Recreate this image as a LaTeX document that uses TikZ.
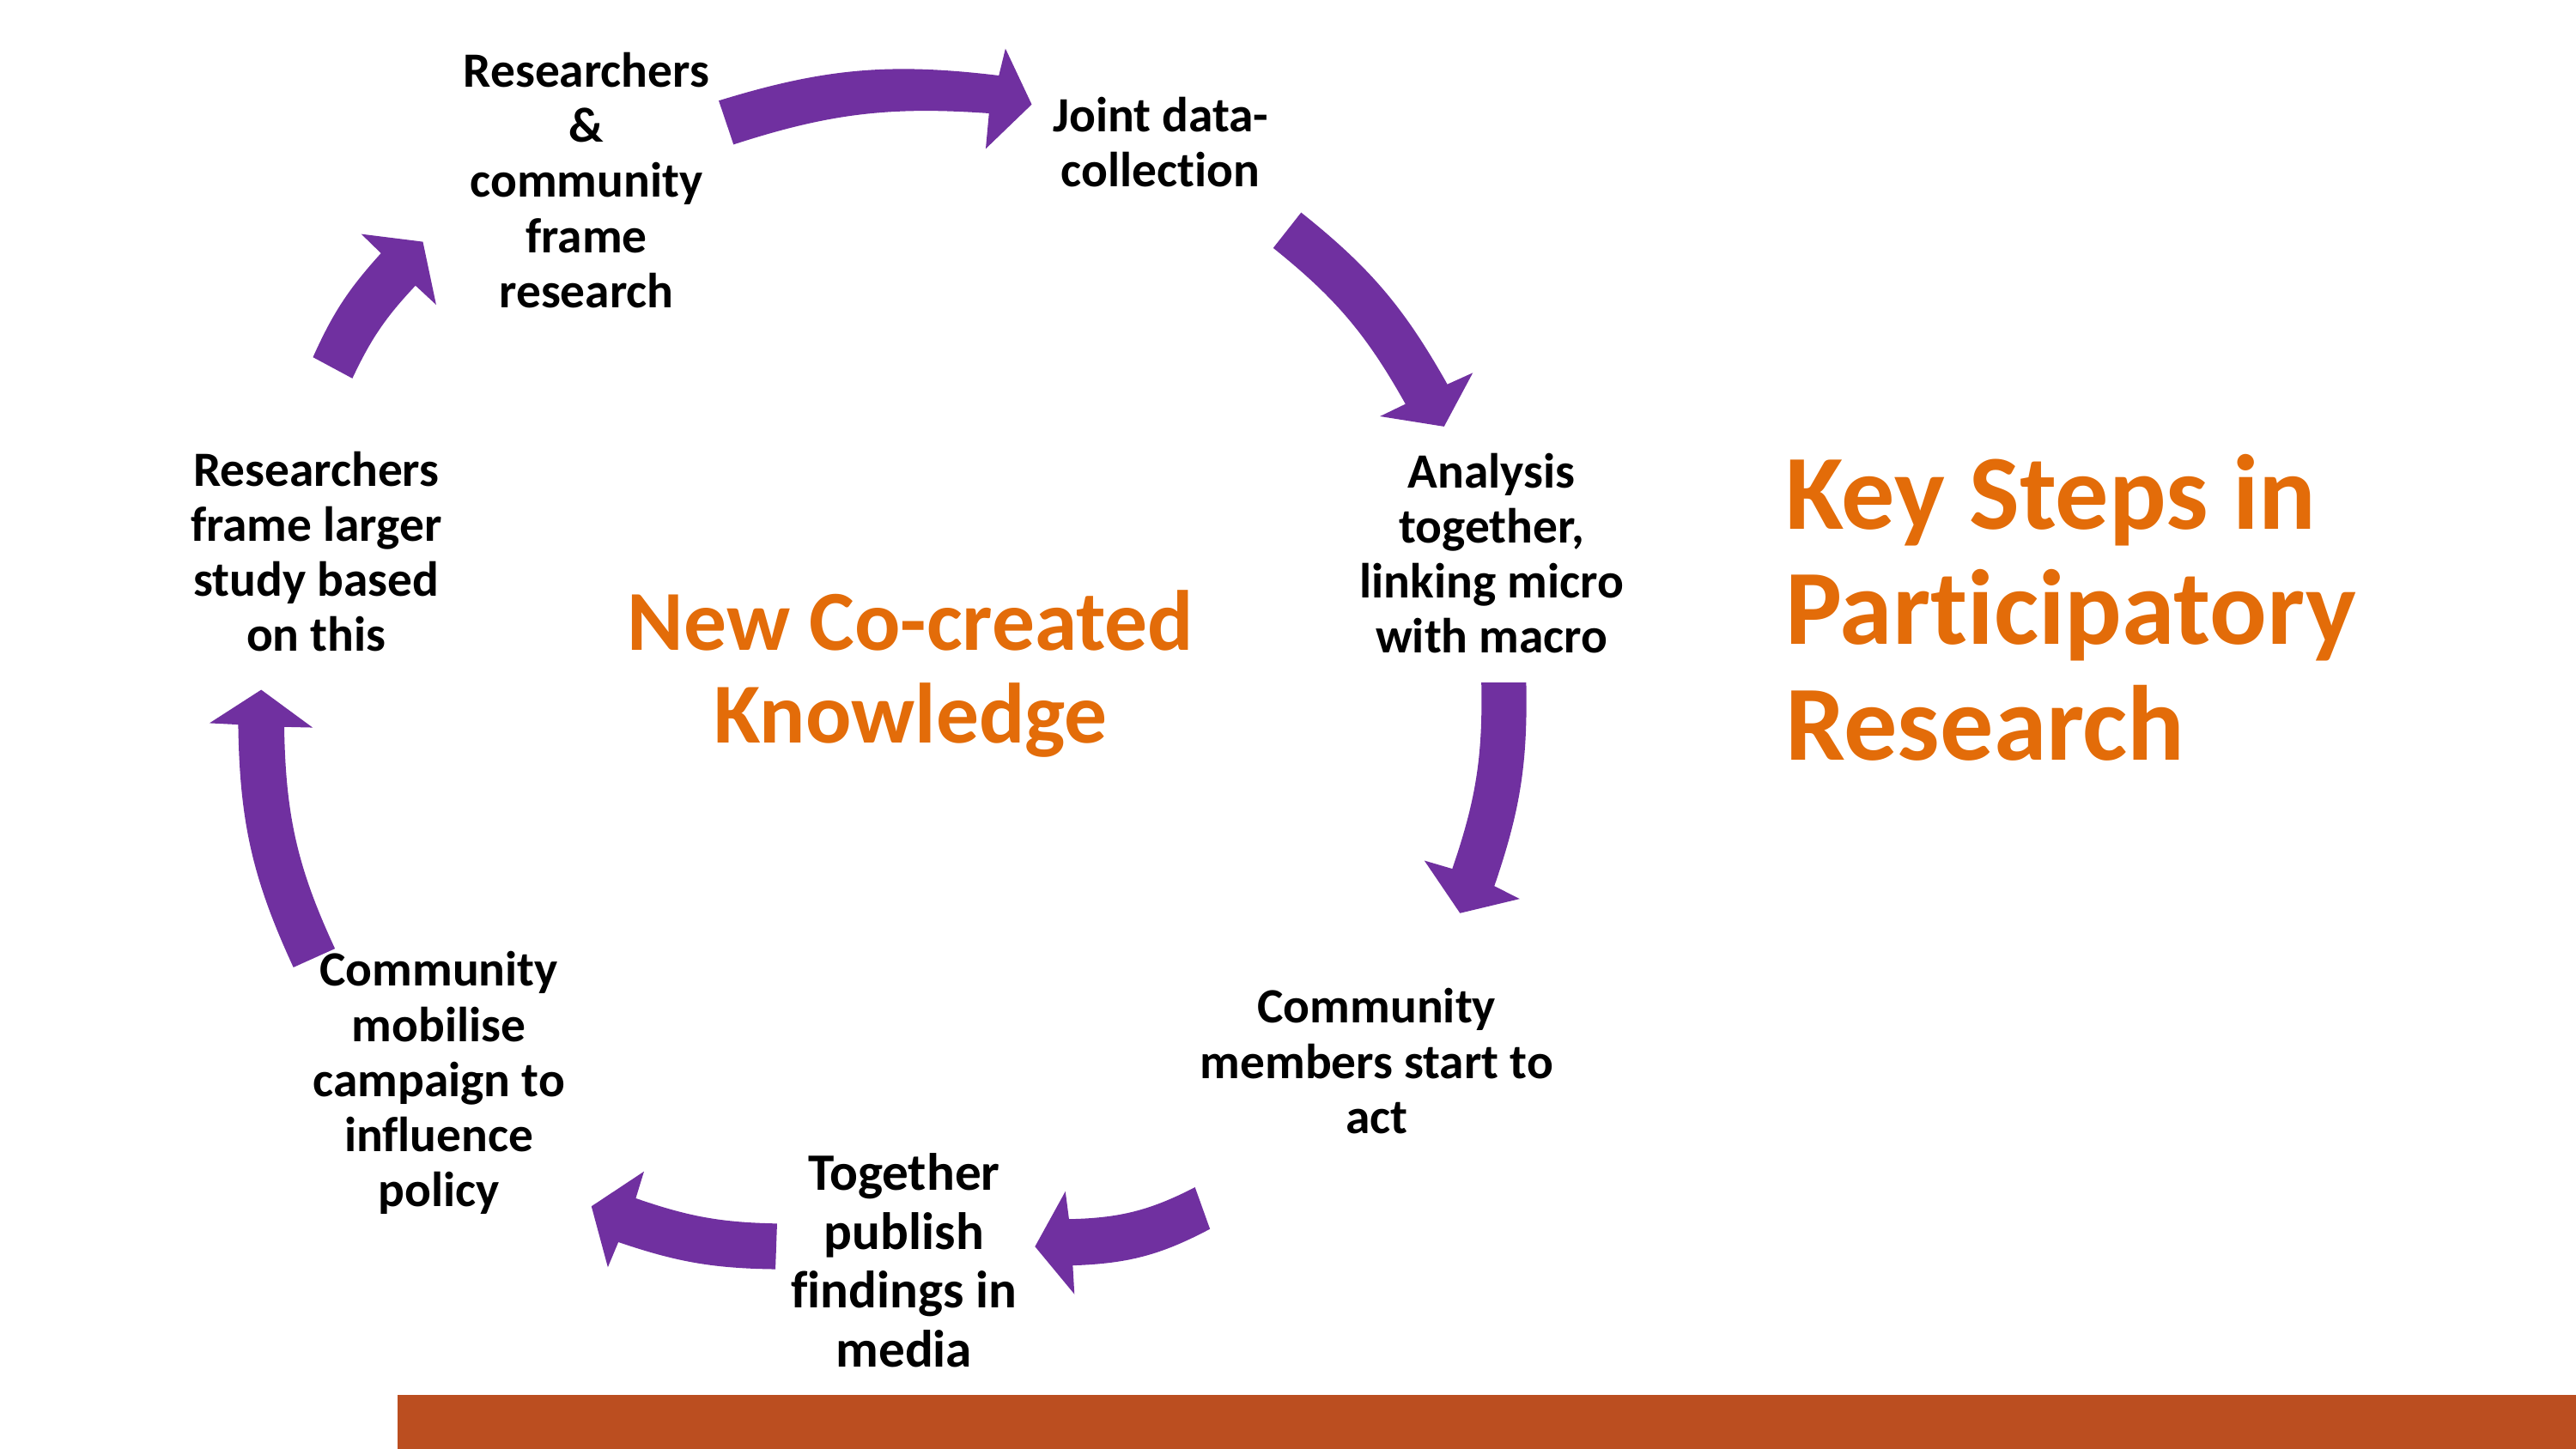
\documentclass[tikz,border=0pt]{standalone}
\usepackage{fontspec}
\setmainfont{Carlito}[Ligatures=NoCommon]
\definecolor{arrowpurple}{HTML}{7030A0}
\definecolor{keyorange}{HTML}{E36C09}
\definecolor{barbrown}{HTML}{BB4E20}
\begin{document}
\begin{tikzpicture}[x=0.1mm,y=0.1mm,
  cyc/.style={fill=arrowpurple},
  steptext/.style={inner sep=0pt, align=center, anchor=base, text=black,
    font=\bfseries\fontsize{8.54pt}{9.53pt}\selectfont},
  bigtext/.style={inner sep=0pt, align=center, anchor=base, text=black,
    font=\bfseries\fontsize{9.1pt}{10.24pt}\selectfont},
  centretext/.style={inner sep=0pt, align=center, anchor=base, text=keyorange,
    font=\bfseries\fontsize{14.8pt}{16.02pt}\selectfont},
  titletext/.style={inner sep=0pt, align=left, anchor=base west, text=keyorange,
    font=\bfseries\fontsize{18.49pt}{20.06pt}\selectfont}]
\useasboundingbox (0,0) rectangle (1568,882);
% bottom bar
\fill[barbrown] (242,0) rectangle (1568,32.5);

% step texts (anchor = baseline of last line)
\node[steptext] (n1) at (357,694.8) {Researchers\\\&\\community\\frame\\research};
\node[steptext] (n2) at (706.5,768.5) {Joint data-\\collection};
\node[steptext] (n3) at (908,484.5) {Analysis\\together,\\linking micro\\with macro};
\node[steptext] (n4) at (838,192) {Community\\members start to\\act};
\node[bigtext]  (n5) at (550.3,49.5) {Together\\publish\\findings in\\media};
\node[steptext] (n6) at (267.2,147.5) {Community\\mobilise\\campaign to\\influence\\policy};
\node[steptext] (n7) at (192.5,485.5) {Researchers\\frame larger\\study based\\on this};

\node[centretext] (ctr) at (554.3,429.8) {New Co-created\\Knowledge};
\node[titletext] (title) at (1086,419) {Key Steps in\\Participatory\\Research};

% curved block arrows
\fill[cyc] (437.5,820.7) to[bend left=12] (608,836) -- (612,852.4) -- (628,818.4)
  -- (600,791.4) -- (602,813) to[bend right=11] (446.5,794) -- cycle;
\fill[cyc] (792,752.6) to[bend left=11] (881,648) -- (896.5,655) -- (879,622.3)
  -- (840,628.5) -- (855.5,636) to[bend right=11] (775,731) -- cycle;
\fill[cyc] (929,466.4) to[bend left=10] (909.6,342.5) -- (925,334.7) -- (888.7,326)
  -- (867,358) -- (884,353) to[bend right=10] (901.7,466.4) -- cycle;
\fill[cyc] (736.5,133.7) to[bend left=13] (653,111.5) -- (654,94) -- (630,123)
  -- (648.5,156.6) -- (650.7,139.7) to[bend right=13] (727.4,159.1) -- cycle;
\fill[cyc] (472,109.2) to[bend left=9] (376.4,125.7) -- (370,110.4) -- (360,147.5)
  -- (392,168.7) -- (387,152.4) to[bend right=9] (473,137) -- cycle;
\fill[cyc] (178.6,293) to[bend left=12] (145,440.8) -- (127.5,441.7) -- (159,462)
  -- (190.3,439) -- (173,439.4) to[bend right=12] (203.9,304.4) -- cycle;
\fill[cyc] (190.5,664.5) to[bend left=9] (231.9,727.8) -- (219.9,739.5) -- (257.4,734.8)
  -- (265.5,696.4) -- (252.9,708.1) to[bend right=9] (214.5,651.6) -- cycle;
\end{tikzpicture}
\end{document}
